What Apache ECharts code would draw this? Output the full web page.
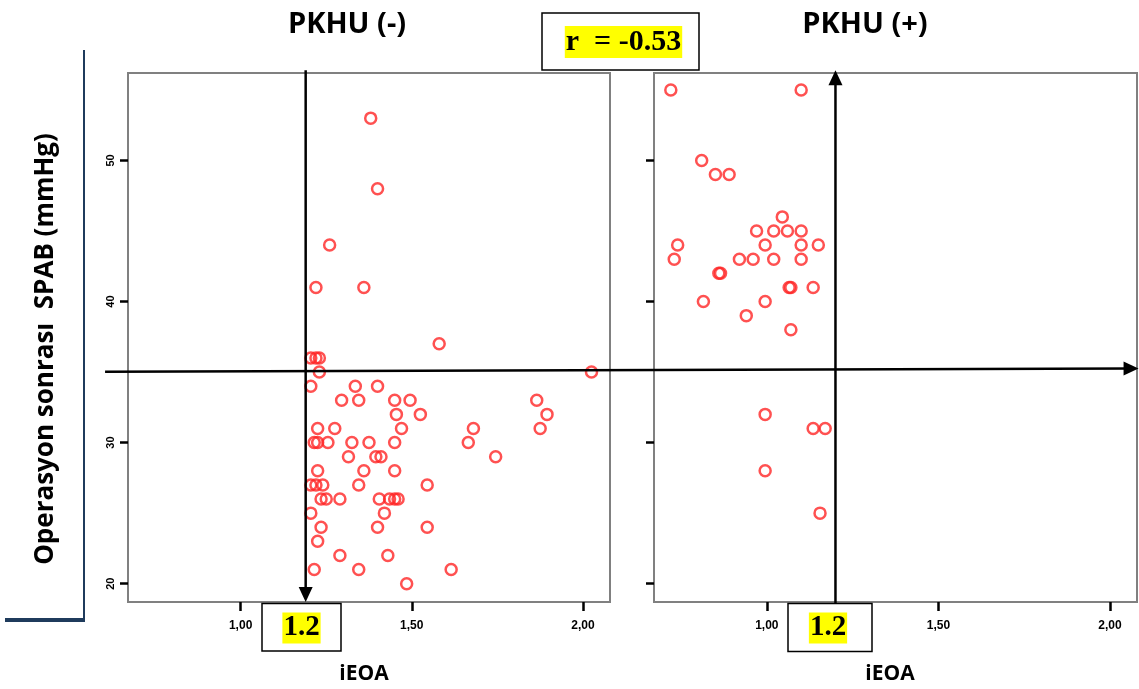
<!DOCTYPE html>
<html><head><meta charset="utf-8">
<script src="https://cdn.jsdelivr.net/npm/echarts@6/dist/echarts.min.js"></script>
<style>html,body{margin:0;padding:0;background:#fff}#c{width:1139px;height:689px}</style>
</head><body><div id="c"></div>
<script>
// ---- data ----
const leftSPAB = [53,48,44,41,41,37,36,36,36,35,35,34,34,34,33,33,33,33,33,32,32,32,31,31,31,31,31,30,30,30,30,30,30,30,29,29,29,29,28,28,28,27,27,27,27,27,26,26,26,26,26,26,26,25,25,24,24,24,23,22,22,21,21,21,20];
const leftIEOA = [1.38,1.40,1.26,1.22,1.36,1.58,1.205,1.22,1.23,1.23,2.025,1.205,1.335,1.40,1.295,1.345,1.45,1.495,1.865,1.455,1.525,1.895,1.225,1.275,1.47,1.68,1.875,1.215,1.225,1.255,1.325,1.375,1.45,1.665,1.315,1.395,1.41,1.745,1.225,1.36,1.45,1.205,1.22,1.24,1.345,1.545,1.235,1.25,1.29,1.405,1.435,1.45,1.46,1.205,1.42,1.235,1.40,1.545,1.225,1.29,1.43,1.215,1.345,1.615,1.485];
const rightSPAB = [55,55,50,49,49,46,45,45,45,45,44,44,44,44,43,43,43,43,43,42,42,41,41,41,40,40,39,38,32,31,31,28,25];
const rightIEOA = [0.72,1.10,0.81,0.85,0.89,1.045,0.97,1.02,1.06,1.10,0.74,0.995,1.10,1.15,0.73,0.92,0.96,1.02,1.10,0.86,0.865,1.065,1.07,1.135,0.815,0.995,0.94,1.07,0.995,1.135,1.17,0.995,1.155];
const xTicks = [1.0, 1.5, 2.0];
const yTicks = [20, 30, 40, 50];
const panelTitles = ['PKHU (-)', 'PKHU (+)'];
const xName = 'iEOA';
const yName = 'Operasyon sonrası  SPAB (mmHg)';
const cutoffLabel = '1.2';
const corrLabel = 'r  = -0.53';
// reference-line positions in data units
const cutLeftX = 1.19, cutRightX = 1.2;
const hLineStart = [0.604, 35.03], hLineEnd = [3.623, 35.25];
const xRange = [0.671, 2.079], yRange = [18.7, 56.2];

const RED = '#ff2626';
const chart = echarts.init(document.getElementById('c'), null, {renderer: 'canvas'});

function xAxis(gi) {
  return {
    type: 'value', gridIndex: gi, min: xRange[0], max: xRange[1],
    splitLine: {show: false}, axisLine: {show: false},
    axisTick: {show: true, customValues: xTicks, length: 9, lineStyle: {color: '#000', width: 2.5}},
    axisLabel: {show: true, customValues: xTicks, margin: 18, color: '#000',
      fontFamily: 'Liberation Sans', fontSize: 12, fontWeight: 'bold',
      formatter: v => v.toFixed(2).replace('.', ',')}
  };
}
function yAxis(gi, labels) {
  return {
    type: 'value', gridIndex: gi, min: yRange[0], max: yRange[1],
    splitLine: {show: false}, axisLine: {show: false},
    axisTick: {show: true, customValues: yTicks, length: 8, lineStyle: {color: '#000', width: 2.5}},
    axisLabel: {show: labels, customValues: yTicks, rotate: 90, margin: 12, color: '#000',
      fontFamily: 'Liberation Sans', fontSize: 11, fontWeight: 'bold'}
  };
}
function pts(xs, ys) { return xs.map((x, i) => [x, ys[i]]); }

const markerStyle = {color: 'rgba(0,0,0,0)', borderColor: RED, borderWidth: 2.5};
chart.setOption({
  animation: false,
  backgroundColor: '#fff',
  grid: [
    {left: 128, top: 73, width: 482, height: 529, show: true, borderColor: '#808080', borderWidth: 2},
    {left: 654, top: 73, width: 483, height: 529, show: true, borderColor: '#808080', borderWidth: 2}
  ],
  xAxis: [xAxis(0), xAxis(1)],
  yAxis: [yAxis(0, true), yAxis(1, false)],
  series: [
    {type: 'scatter', xAxisIndex: 0, yAxisIndex: 0, data: pts(leftIEOA, leftSPAB),
     symbol: 'circle', symbolSize: 11, itemStyle: markerStyle},
    {type: 'scatter', xAxisIndex: 1, yAxisIndex: 1, data: pts(rightIEOA, rightSPAB),
     symbol: 'circle', symbolSize: 11, itemStyle: markerStyle}
  ]
});

// annotations positioned through the axes
const p = (gi, v) => chart.convertToPixel({gridIndex: gi}, v);
const lv0 = p(0, [cutLeftX, yRange[1] + 0.2]);
const lv1 = p(0, [cutLeftX, yRange[0]]);
const rv0 = p(1, [cutRightX, yRange[0] - 0.1]);
const rv1 = p(1, [cutRightX, yRange[1] + 0.2]);
const h0 = p(0, hLineStart), h1 = p(0, hLineEnd);
const LS = {stroke: '#000', lineWidth: 2.5};
const arrowLen = 15, arrowHalf = 7;
const ang = Math.atan2(h1[1] - h0[1], h1[0] - h0[0]);

const boxText = (cx, cy, txt, size) => ({
  type: 'text', x: cx, y: cy, z: 20,
  style: {text: txt, font: 'bold ' + size + 'px "Liberation Serif"', fill: '#000',
    align: 'center', verticalAlign: 'middle', backgroundColor: '#ffff00', padding: [1, 1]}
});

chart.setOption({
  graphic: [
    // blue frame lines
    {type: 'line', shape: {x1: 84, y1: 50, x2: 84, y2: 622}, style: {stroke: '#1f3b5c', lineWidth: 2}},
    {type: 'line', shape: {x1: 5, y1: 620, x2: 85, y2: 620}, style: {stroke: '#1f3b5c', lineWidth: 4}},
    // left vertical arrow (down)
    {type: 'line', z: 10, shape: {x1: lv0[0], y1: lv0[1], x2: lv1[0], y2: lv1[1] - 8}, style: LS},
    {type: 'polygon', z: 10, shape: {points: [[lv1[0], lv1[1]], [lv1[0] - arrowHalf, lv1[1] - arrowLen], [lv1[0] + arrowHalf, lv1[1] - arrowLen]]}, style: {fill: '#000'}},
    // right vertical arrow (up)
    {type: 'line', z: 10, shape: {x1: rv0[0], y1: rv0[1], x2: rv1[0], y2: rv1[1] + 8}, style: LS},
    {type: 'polygon', z: 10, shape: {points: [[rv1[0], rv1[1]], [rv1[0] - arrowHalf, rv1[1] + arrowLen], [rv1[0] + arrowHalf, rv1[1] + arrowLen]]}, style: {fill: '#000'}},
    // horizontal arrow (right)
    {type: 'line', z: 10, shape: {x1: h0[0], y1: h0[1], x2: h1[0] - 8, y2: h1[1]}, style: LS},
    {type: 'polygon', z: 10, shape: {points: [[h1[0], h1[1]],
      [h1[0] - arrowLen * Math.cos(ang) + arrowHalf * Math.sin(ang), h1[1] - arrowLen * Math.sin(ang) - arrowHalf * Math.cos(ang)],
      [h1[0] - arrowLen * Math.cos(ang) - arrowHalf * Math.sin(ang), h1[1] - arrowLen * Math.sin(ang) + arrowHalf * Math.cos(ang)]]}, style: {fill: '#000'}},
    // titles
    {type: 'text', x: 347, y: 25, style: {text: panelTitles[0], font: 'bold 29px "Open Sans"', fill: '#000', align: 'center', verticalAlign: 'middle'}},
    {type: 'text', x: 865, y: 25, style: {text: panelTitles[1], font: 'bold 29px "Open Sans"', fill: '#000', align: 'center', verticalAlign: 'middle'}},
    // axis names
    {type: 'text', x: 364, y: 674, style: {text: xName, font: 'bold 21px "Open Sans"', fill: '#000', align: 'center', verticalAlign: 'middle'}},
    {type: 'text', x: 890, y: 674, style: {text: xName, font: 'bold 21px "Open Sans"', fill: '#000', align: 'center', verticalAlign: 'middle'}},
    {type: 'text', x: 46, y: 349, rotation: Math.PI / 2, style: {text: yName, font: 'bold 26px "Open Sans"', fill: '#000', align: 'center', verticalAlign: 'middle'}},
    // r box
    {type: 'rect', z: 15, shape: {x: 542, y: 13, width: 157, height: 57}, style: {fill: '#fff', stroke: '#000', lineWidth: 1.5}},
    boxText(623.5, 42, corrLabel, 30),
    // 1.2 boxes
    {type: 'rect', z: 15, shape: {x: 262, y: 603.5, width: 79, height: 47.5}, style: {fill: '#fff', stroke: '#000', lineWidth: 1.5}},
    boxText(301.5, 628, cutoffLabel, 29),
    {type: 'rect', z: 15, shape: {x: 788, y: 603.5, width: 84, height: 48}, style: {fill: '#fff', stroke: '#000', lineWidth: 1.5}},
    boxText(828, 628, cutoffLabel, 29)
  ]
});
</script>
</body></html>
